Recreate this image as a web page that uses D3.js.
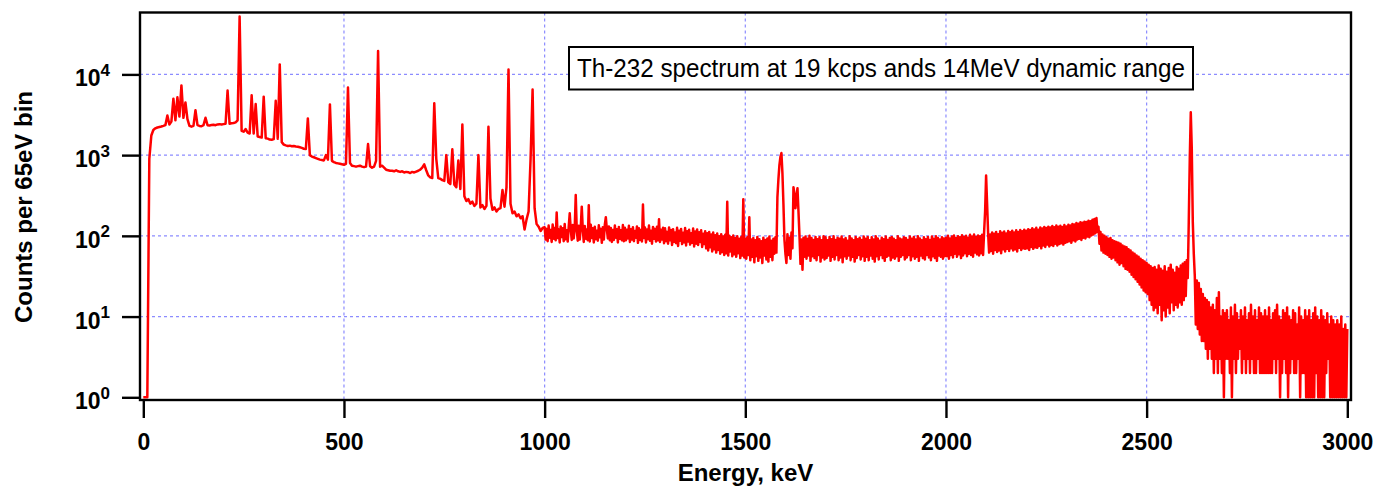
<!DOCTYPE html>
<html>
<head>
<meta charset="utf-8">
<script src="https://cdn.jsdelivr.net/npm/d3@7"></script>
<style>
  body { margin: 0; background: #fff; }
  svg { display: block; font-family: "Liberation Sans", Arial, sans-serif; }
</style>
</head>
<body>
<script>
// 0 .. 995 keV in 5 keV bins (one row = 100 keV)
var energyLow = d3.range(0, 1000, 5);
var countsLow = [
    1, 1, 1, 900, 1750, 2050, 2150, 2200, 2230, 2260, 2300, 2350, 3100, 2400, 2600, 5000, 2700, 5200, 3000, 7300,
    2900, 4500, 2800, 2300, 2250, 2300, 3600, 2350, 2300, 2280, 2350, 2900, 2350, 2330, 2360, 2380, 2350, 2400, 2420, 2390,
    2420, 2450, 6300, 2450, 2480, 2500, 2550, 2700, 52000, 2000, 1950, 2100, 1900, 1850, 5500, 1850, 4300, 1700, 1680, 1650,
    5300, 1620, 1600, 1560, 1550, 1580, 4700, 1600, 13300, 1450, 1350, 1320, 1300, 1310, 1290, 1300, 1280, 1270, 1250, 1230,
    1200, 1190, 2850, 1000, 960, 940, 920, 900, 880, 870, 860, 1000, 880, 4250, 850, 820, 800, 790, 780, 770,
    760, 780, 6900, 800, 740, 730, 720, 730, 740, 720, 710, 720, 1370, 730, 700, 720, 850, 19500, 720, 740,
    700, 660, 650, 640, 640, 630, 650, 630, 620, 630, 610, 620, 615, 600, 620, 610, 625, 640, 660, 700,
    770, 650, 560, 530, 520, 4400, 900, 520, 510, 490, 480, 1000, 460, 440, 1180, 430, 400, 860, 380, 2400,
    310, 270, 285, 250, 265, 235, 250, 1000, 225, 240, 215, 235, 2240, 290, 210, 225, 200, 215, 220, 370,
    230, 400, 11500, 250, 190, 200, 175, 185, 165, 175, 120, 160, 200, 900, 6500, 220, 140, 130, 115, 125
];
// 1000 .. 3000 keV in 2.5 keV bins, noisy part (one row = 100 keV)
var energyHigh = d3.range(1000, 3001, 2.5);
var countsHigh = [
    128, 90, 122, 86, 134, 95, 118, 84, 138, 92, 125, 88, 195, 94, 120, 83, 131, 97, 124, 86,
    140, 91, 117, 85, 129, 190, 121, 89, 136, 93, 126, 320, 119, 87, 133, 90, 127, 230, 122, 84,
    132, 92, 120, 88, 240, 85, 137, 94, 124, 83, 130, 91, 116, 87, 135, 96, 122, 82, 128, 90,
    138, 170, 120, 93, 131, 88, 125, 84, 118, 89, 134, 95, 121, 83, 129, 92, 117, 88, 136, 86,
    126, 88, 119, 93, 133, 84, 121, 90, 128, 86, 115, 95, 131, 82, 124, 89, 118, 85, 245, 94,
    127, 83, 120, 91, 134, 87, 116, 80, 129, 92, 122, 85, 130, 88, 160, 84, 119, 90, 126, 81,
    124, 86, 112, 80, 127, 88, 118, 77, 121, 84, 110, 81, 126, 75, 116, 87, 122, 79, 109, 83,
    125, 76, 114, 85, 119, 78, 108, 82, 123, 74, 113, 80, 120, 77, 111, 84, 117, 73, 106, 79,
    114, 70, 108, 66, 112, 72, 104, 64, 110, 68, 102, 62, 107, 67, 99, 60, 105, 63, 98, 58,
    103, 61, 265, 57, 100, 64, 96, 56, 101, 59, 94, 55, 99, 61, 92, 53, 97, 57, 285, 54,
    92, 52, 96, 58, 170, 50, 90, 55, 94, 47, 88, 56, 97, 49, 91, 54, 86, 46, 95, 57,
    89, 51, 93, 48, 98, 55, 87, 50, 92, 60, 96, 62, 300, 500, 750, 950, 1060, 600, 250, 90,
    60, 46, 105, 58, 95, 52, 110, 70, 400, 330, 220, 300, 390, 200, 100, 45, 90, 38, 95, 55,
    98, 52, 92, 57, 100, 49, 94, 56, 89, 53, 97, 50, 91, 58, 96, 48, 88, 54, 99, 51,
    96, 53, 88, 57, 97, 49, 91, 55, 99, 51, 89, 58, 95, 50, 92, 54, 98, 47, 90, 56,
    94, 52, 87, 57, 99, 50, 93, 55, 88, 48, 97, 53, 91, 58, 95, 51, 89, 56, 98, 49,
    92, 55, 97, 50, 88, 57, 96, 52, 90, 48, 99, 56, 93, 51, 87, 58, 95, 53, 91, 49,
    98, 55, 89, 57, 94, 50, 97, 54, 92, 52, 88, 56, 99, 49, 93, 55, 90, 58, 96, 51,
    94, 54, 89, 58, 98, 50, 92, 56, 97, 52, 90, 55, 99, 49, 93, 57, 88, 53, 96, 51,
    91, 58, 97, 54, 89, 50, 98, 56, 92, 53, 99, 49, 94, 57, 90, 55, 96, 52, 93, 56,
    95, 56, 100, 52, 93, 58, 98, 54, 101, 60, 94, 55, 99, 59, 96, 53, 102, 57, 97, 61,
    100, 56, 95, 60, 103, 58, 98, 55, 104, 62, 97, 59, 101, 57, 99, 61, 103, 58, 110, 200,
    560, 250, 108, 62, 104, 65, 110, 60, 106, 67, 112, 63, 105, 66, 114, 61, 109, 68, 113, 64,
    107, 69, 115, 65, 111, 70, 116, 66, 110, 68, 117, 64, 112, 71, 118, 67, 114, 70, 119, 69,
    116, 70, 121, 67, 118, 73, 124, 69, 120, 72, 126, 71, 119, 75, 127, 70, 123, 76, 129, 73,
    125, 78, 130, 74, 127, 77, 132, 75, 128, 80, 134, 76, 130, 79, 133, 81, 129, 78, 136, 82,
    131, 84, 137, 86, 134, 82, 140, 88, 138, 85, 144, 90, 141, 92, 147, 89, 145, 95, 150, 93,
    148, 98, 154, 96, 152, 101, 158, 104, 162, 108, 166, 112, 130, 80, 112, 66, 104, 62, 100, 60,
    96, 58, 92, 55, 94, 52, 88, 54, 86, 50, 84, 47, 82, 44, 80, 46, 76, 42, 74, 39,
    72, 38, 68, 36, 66, 33, 62, 31, 60, 29, 57, 27, 55, 25, 52, 23, 50, 21, 48, 20,
    46, 19, 44, 16, 42, 14, 40, 12, 41, 13, 38, 11, 43, 14, 39, 9, 37, 12, 42, 10,
    36, 13, 40, 11, 44, 15, 38, 12, 35, 14, 41, 13, 39, 15, 43, 14, 45, 16, 47, 18,
    50, 30, 150, 900, 3400, 1200, 150, 60, 32, 8, 28, 7, 26, 6, 22, 5, 19, 5, 17, 4,
    16, 3, 15, 4, 13, 3, 14, 2, 12, 3, 17, 2, 20, 3, 10, 2, 12, 1, 11, 3,
    12, 3, 9, 2, 13, 1, 10, 3, 14, 2, 11, 3, 9, 4, 12, 2, 10, 3, 13, 2,
    9, 3, 11, 2, 14, 3, 10, 2, 12, 2, 9, 3, 13, 2, 11, 2, 10, 2, 12, 2,
    10, 2, 13, 2, 9, 2, 11, 3, 12, 2, 14, 3, 10, 1, 9, 2, 12, 3, 11, 2,
    13, 1, 10, 2, 9, 3, 12, 2, 11, 2, 8, 3, 13, 1, 10, 2, 9, 2, 12, 1,
    10, 1, 12, 1, 9, 1, 11, 1, 13, 2, 10, 1, 9, 1, 12, 1, 10, 1, 9, 2,
    11, 3, 8, 1, 10, 1, 9, 1, 8, 1, 9, 1, 8, 1, 10, 1, 7, 1, 8, 1,
    7
];
var xTicks = [0, 500, 1000, 1500, 2000, 2500, 3000];
var yTicks = [1, 10, 100, 1000, 10000];
var xGrid = [500, 1000, 1500, 2000, 2500];
var yGrid = [10, 100, 1000, 10000];
var xTitle = "Energy, keV";
var yTitle = "Counts per 65eV bin";
var note = "Th-232 spectrum at 19 kcps ands 14MeV dynamic range";

(function() {
    var w = 1383;
    var h = 489;
    var box = {left: 140, right: 1351, top: 12.5, bottom: 400};

    var svg = d3.select("body").append("svg")
        .attr("width", w)
        .attr("height", h);

    var x = d3.scaleLinear().domain([0, 3000]).range([143.3, 1347.3]);
    var y = d3.scaleLog().domain([1, 10000]).range([397.3, 74.4]);

    svg.append("clipPath").attr("id", "plotclip")
        .append("rect")
        .attr("x", box.left).attr("y", box.top)
        .attr("width", box.right - box.left)
        .attr("height", box.bottom - box.top);

    // grid
    svg.selectAll("line.vgrid")
        .data(xGrid)
        .enter().append("line")
        .attr("class", "vgrid")
        .attr("x1", function(d) { return x(d); })
        .attr("x2", function(d) { return x(d); })
        .attr("y1", box.top)
        .attr("y2", box.bottom)
        .attr("stroke", "#8c8cff")
        .attr("stroke-width", 1.2)
        .attr("stroke-dasharray", "3,3");

    svg.selectAll("line.hgrid")
        .data(yGrid)
        .enter().append("line")
        .attr("class", "hgrid")
        .attr("x1", box.left)
        .attr("x2", box.right)
        .attr("y1", function(d) { return y(d); })
        .attr("y2", function(d) { return y(d); })
        .attr("stroke", "#8c8cff")
        .attr("stroke-width", 1.2)
        .attr("stroke-dasharray", "3,3");

    // spectrum
    var pts = energyLow.map(function(e, i) { return [e, countsLow[i]]; })
        .concat(energyHigh.map(function(e, i) { return [e, countsHigh[i]]; }));
    var line = d3.line()
        .x(function(d) { return x(d[0]); })
        .y(function(d) { return y(d[1]); });

    svg.append("path")
        .datum(pts)
        .attr("clip-path", "url(#plotclip)")
        .attr("d", line)
        .attr("fill", "none")
        .attr("stroke", "#ff0000")
        .attr("stroke-width", 2.5)
        .attr("stroke-linejoin", "round");

    // frame
    svg.append("rect")
        .attr("x", box.left).attr("y", box.top)
        .attr("width", box.right - box.left)
        .attr("height", box.bottom - box.top)
        .attr("fill", "none")
        .attr("stroke", "#000")
        .attr("stroke-width", 2.4);

    // x axis
    var xAxis = svg.append("g")
        .attr("transform", "translate(0," + box.bottom + ")")
        .call(d3.axisBottom(x).tickValues(xTicks).tickSize(18).tickFormat(d3.format("d")));
    xAxis.select(".domain").remove();
    xAxis.selectAll(".tick line").attr("stroke", "#000").attr("stroke-width", 2.4);
    xAxis.selectAll(".tick text")
        .attr("y", 50).attr("dy", null)
        .attr("fill", "#000")
        .attr("font-family", "Liberation Sans, Arial, sans-serif")
        .attr("font-size", 23)
        .attr("font-weight", "bold");

    // y axis, labels as 10^n
    var yAxis = svg.append("g")
        .attr("transform", "translate(" + box.left + ",0)")
        .call(d3.axisLeft(y).tickValues(yTicks).tickSize(18).tickFormat(""));
    yAxis.select(".domain").remove();
    yAxis.selectAll(".tick line").attr("stroke", "#000").attr("stroke-width", 2.4);
    yAxis.selectAll(".tick text").remove();

    var ylab = svg.selectAll("text.ylab")
        .data(yTicks)
        .enter().append("text")
        .attr("class", "ylab")
        .attr("x", 110)
        .attr("y", function(d) { return y(d) + 12; })
        .attr("text-anchor", "end")
        .attr("font-weight", "bold")
        .attr("fill", "#000");
    ylab.append("tspan")
        .attr("font-size", 23)
        .text("10");
    ylab.append("tspan")
        .attr("font-size", 17)
        .attr("dy", -10.5)
        .text(function(d) { return Math.round(Math.log10(d)); });

    // titles
    svg.append("text")
        .attr("x", (box.left + box.right) / 2)
        .attr("y", 481)
        .attr("text-anchor", "middle")
        .attr("font-size", 24)
        .attr("font-weight", "bold")
        .text(xTitle);

    svg.append("text")
        .attr("transform", "translate(31.5,207) rotate(-90)")
        .attr("text-anchor", "middle")
        .attr("font-size", 24)
        .attr("font-weight", "bold")
        .text(yTitle);

    // annotation
    svg.append("rect")
        .attr("x", 569).attr("y", 47)
        .attr("width", 624).attr("height", 42.5)
        .attr("fill", "#fff")
        .attr("stroke", "#000")
        .attr("stroke-width", 2);
    svg.append("text")
        .attr("x", 881)
        .attr("y", 77.3)
        .attr("text-anchor", "middle")
        .attr("font-size", 26)
        .attr("textLength", 608)
        .attr("lengthAdjust", "spacingAndGlyphs")
        .text(note);
})();
</script>
</body>
</html>
